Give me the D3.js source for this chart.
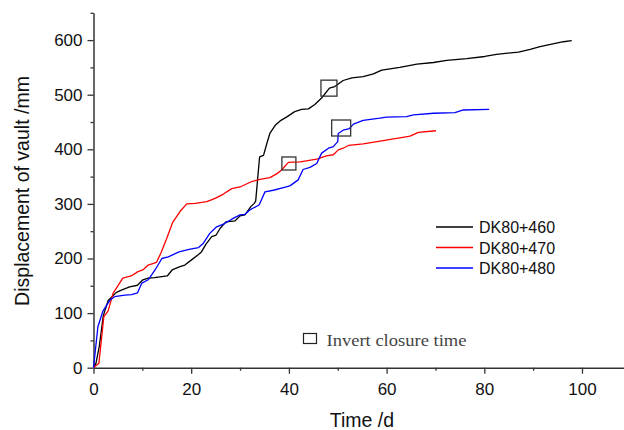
<!DOCTYPE html>
<html>
<head>
	<meta charset="utf-8">
	<title>Vault displacement</title>
	<script type="text/javascript" src="https://cdn.jsdelivr.net/npm/d3@7"></script>
	<style>
		body {
			margin: 0;
			background: #fff;
		}
		text {
			font-family: Arial, "Liberation Sans", sans-serif;
		}
	</style>
</head>

<body>

	<div id="chart"></div>

	<script>

		// data

		const series = ["DK80+460", "DK80+470", "DK80+480"];
		const colors = ["#000000", "#ff0000", "#0000ff"];

		const t460 = [0, 0.5, 1.2, 2.0, 3.0, 4.7, 5.7, 7.4, 9.0, 10.1, 11.2, 12.5, 15.1, 16.1, 17.7, 18.7, 20.0, 21.3, 22.1, 23.0, 24.2, 25.1, 25.9, 27.1, 29.0, 30.0, 31.0, 32.2, 32.9, 33.2, 34.0, 34.8, 35.5, 36.1, 37.2, 38.2, 39.5, 41.2, 42.6, 44.0, 45.3, 46.7, 48.3, 49.4, 51.1, 52.9, 55.2, 57.3, 59.0, 62.7, 66.2, 69.6, 72.3, 76.4, 80.1, 82.5, 87.0, 89.4, 91.4, 96.2, 97.9];
		const v460 = [0, 8, 40, 95, 123, 138, 142, 148, 151, 161, 164, 165, 168, 179, 185, 188, 197, 206, 212, 226, 240, 243, 255, 267, 269, 278, 280, 295, 301, 305, 386, 389, 411, 429, 444, 452, 459, 469, 473, 474, 482, 494, 512, 515, 526, 531, 533, 538, 545, 550, 556, 559, 563, 566, 570, 574, 578, 583, 588, 597, 599];

		const t470 = [0, 1.1, 1.9, 2.1, 3.0, 4.0, 6.0, 7.7, 9.1, 10.1, 11.2, 12.9, 13.8, 15.0, 16.2, 17.7, 19.1, 20.8, 23.2, 24.9, 26.6, 28.3, 30.0, 32.4, 34.1, 36.1, 37.5, 38.5, 39.9, 42.3, 45.7, 47.7, 49.1, 50.1, 51.1, 52.2, 55.2, 59.3, 62.7, 64.8, 66.5, 70.1];
		const v470 = [0, 8, 75, 93, 104, 136, 164, 168, 176, 179, 188, 193, 210, 237, 266, 286, 300, 301, 304, 310, 318, 328, 331, 341, 345, 348, 355, 362, 376, 377, 382, 388, 390, 399, 402, 407, 410, 416, 421, 424, 431, 434];

		const t480 = [0, 0.9, 1.9, 3.3, 4.3, 6.4, 7.8, 9.0, 9.9, 11.2, 12.6, 14.0, 15.3, 17.5, 19.8, 21.5, 22.5, 23.8, 25.2, 26.6, 28.3, 30.0, 31.0, 32.0, 33.9, 35.1, 36.8, 38.9, 40.2, 41.9, 42.9, 44.3, 45.7, 46.7, 48.1, 49.1, 50.0, 50.1, 51.1, 52.4, 53.2, 55.2, 58.6, 60.0, 64.1, 65.5, 69.6, 74.0, 75.7, 81.0];
		const v480 = [0, 75, 103, 123, 130, 133, 134, 137, 155, 161, 179, 200, 203, 212, 217, 220, 228, 246, 258, 263, 272, 280, 281, 289, 298, 322, 325, 330, 333, 344, 363, 367, 374, 393, 402, 405, 414, 429, 435, 438, 446, 453, 457, 459, 460, 463, 466, 467, 472, 473];

		// invert closure time of each section
		const closureT = [48.2, 40.0, 50.7];
		const closureV = [512, 374, 439];

		const xTicks = [0, 20, 40, 60, 80, 100];
		const yTicks = [0, 100, 200, 300, 400, 500, 600];

		// layout

		const width = 624;
		const height = 430;
		const fontSize = "17px";
		const boxSize = [[16, 16], [14, 13], [19, 16]];

		const svg = d3.select("#chart")
			.append("svg")
			.attr("width", width)
			.attr("height", height)
			.attr("viewBox", [0, 0, width, height]);

		const x = d3.scaleLinear([0, 108.7], [93.5, 624.5]);
		const y = d3.scaleLinear([0, 650], [367.7, 12.8]);

		// minor ticks
		svg.append("g")
			.attr("transform", `translate(0,${y(0)})`)
			.call(d3.axisBottom(x).tickValues(d3.range(10, 101, 20)).tickSize(3).tickFormat(""))
			.call(g => g.select(".domain").remove())
			.call(g => g.selectAll("line").attr("stroke", "#333").attr("stroke-width", 1.3));
		svg.append("g")
			.attr("transform", `translate(${x(0)},0)`)
			.call(d3.axisLeft(y).tickValues(d3.range(50, 651, 100)).tickSize(3).tickFormat(""))
			.call(g => g.select(".domain").remove())
			.call(g => g.selectAll("line").attr("stroke", "#333").attr("stroke-width", 1.3));

		// axes
		svg.append("g")
			.attr("transform", `translate(0,${y(0)})`)
			.call(d3.axisBottom(x).tickValues(xTicks).tickSize(6).tickPadding(9).tickSizeOuter(0))
			.call(g => g.select(".domain").attr("stroke", "#333").attr("stroke-width", 1.5))
			.call(g => g.selectAll(".tick line").attr("stroke", "#333").attr("stroke-width", 1.3))
			.call(g => g.selectAll("text").attr("fill", "#111").style("font-size", fontSize));

		svg.append("g")
			.attr("transform", `translate(${x(0)},0)`)
			.call(d3.axisLeft(y).tickValues(yTicks).tickSize(6).tickPadding(5).tickSizeOuter(0))
			.call(g => g.select(".domain").attr("stroke", "#333").attr("stroke-width", 1.5))
			.call(g => g.selectAll(".tick line").attr("stroke", "#333").attr("stroke-width", 1.3))
			.call(g => g.selectAll("text").attr("fill", "#111").style("font-size", fontSize));

		svg.append("text")
			.attr("x", 362)
			.attr("y", 427)
			.attr("text-anchor", "middle")
			.style("font-size", "19.5px")
			.attr("fill", "#111")
			.text("Time /d");

		svg.append("text")
			.attr("transform", "translate(29,191) rotate(-90)")
			.attr("text-anchor", "middle")
			.style("font-size", "19.5px")
			.attr("fill", "#111")
			.text("Displacement of vault /mm");

		// curves
		const data = [
			d3.zip(t460, v460),
			d3.zip(t470, v470),
			d3.zip(t480, v480)
		];

		const line = d3.line()
			.x(d => x(d[0]))
			.y(d => y(d[1]));

		svg.append("g")
			.selectAll("path")
			.data(data)
			.join("path")
			.attr("fill", "none")
			.attr("stroke", (d, i) => colors[i])
			.attr("stroke-width", 1.3)
			.attr("stroke-linejoin", "round")
			.attr("d", line);

		// closure markers
		svg.append("g")
			.selectAll("rect")
			.data(closureT)
			.join("rect")
			.attr("x", (d, i) => x(d) - boxSize[i][0] / 2)
			.attr("y", (d, i) => y(closureV[i]) - boxSize[i][1] / 2)
			.attr("width", (d, i) => boxSize[i][0])
			.attr("height", (d, i) => boxSize[i][1])
			.attr("fill", "none")
			.attr("stroke", "#333")
			.attr("stroke-width", 1.3);

		// legend
		const legend = svg.append("g")
			.selectAll("g")
			.data(series)
			.join("g")
			.attr("transform", (d, i) => `translate(436,${227 + i * 20.5})`);

		legend.append("line")
			.attr("x1", 0)
			.attr("x2", 37)
			.attr("stroke", (d, i) => colors[i])
			.attr("stroke-width", 1.3);

		legend.append("text")
			.attr("x", 43)
			.attr("y", 6)
			.style("font-size", "16px")
			.attr("fill", "#111")
			.text(d => d);

		svg.append("rect")
			.attr("x", 303.5)
			.attr("y", 333.5)
			.attr("width", 13)
			.attr("height", 10)
			.attr("fill", "none")
			.attr("stroke", "#222")
			.attr("stroke-width", 1.2);

		svg.append("text")
			.attr("x", 326.5)
			.attr("y", 346)
			.attr("textLength", 140)
			.attr("lengthAdjust", "spacingAndGlyphs")
			.style("font-family", "'Liberation Serif', 'DejaVu Serif', serif")
			.style("font-size", "16px")
			.attr("fill", "#444")
			.text("Invert closure time");

	</script>

</body>

</html>
